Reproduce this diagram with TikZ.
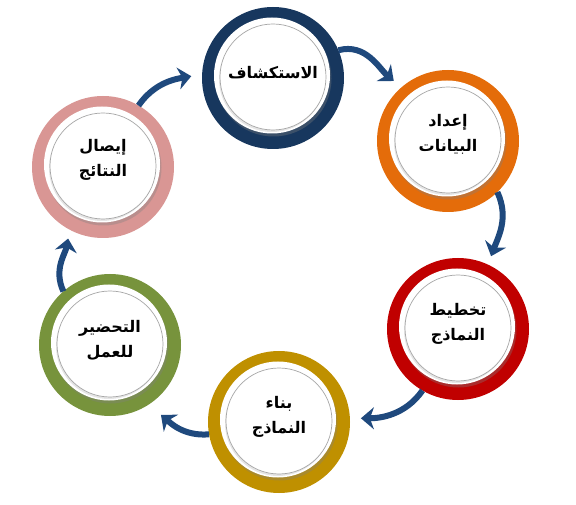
\documentclass[tikz,border=0pt]{standalone}
\usepackage{fontspec}
\newfontfamily\arabicfont[Script=Arabic]{DejaVu Sans}
\TeXXeTstate=1
\usetikzlibrary{arrows.meta,shadows}
\definecolor{navyring}{RGB}{23,55,94}
\definecolor{orangering}{RGB}{228,108,10}
\definecolor{redring}{RGB}{192,0,0}
\definecolor{goldring}{RGB}{191,144,0}
\definecolor{greenring}{RGB}{119,147,60}
\definecolor{pinkring}{RGB}{217,150,148}
\definecolor{flowblue}{RGB}{31,73,125}
\tikzset{
    x=1pt,y=1pt,
    ring/.style ={circle, fill=#1, minimum size=142pt, inner sep=0pt, outer sep=0pt},
    disk/.style ={circle, fill=white, minimum size=116pt, inner sep=0pt,
        drop shadow={shadow xshift=1.5pt, shadow yshift=-3pt, opacity=0.35}},
    core/.style ={circle, minimum size=106pt, inner sep=0pt, fill=white, draw=gray!70, line width=0.7pt,
        drop shadow={shadow xshift=-1pt, shadow yshift=-2pt, opacity=0.2}},
    label/.style ={align=center, font=\arabicfont\bfseries\fontsize{16}{25}\selectfont},
    flow/.style ={-{Stealth[width=22pt,length=13pt,inset=4pt]}, line width=6pt, draw=flowblue}
}
\begin{document}
\begin{tikzpicture}
    \useasboundingbox (0,0) rectangle (576,504);

    \node[ring=navyring] (explore) at (273,426) {};
    \node[ring=orangering] (prep) at (448,363) {};
    \node[ring=redring] (plan) at (458,175) {};
    \node[ring=goldring] (build) at (279,82) {};
    \node[ring=greenring] (ready) at (110,159) {};
    \node[ring=pinkring] (report) at (103,337) {};

    \node[disk] at ([xshift=-1pt,yshift=2.5pt]explore.center) {};
    \node[disk] at ([xshift=-1pt,yshift=2.5pt]prep.center) {};
    \node[disk] at ([xshift=-1pt,yshift=2.5pt]plan.center) {};
    \node[disk] at ([xshift=-1pt,yshift=2.5pt]build.center) {};
    \node[disk] at ([xshift=-1pt,yshift=2.5pt]ready.center) {};
    \node[disk] at ([xshift=-1pt,yshift=2.5pt]report.center) {};

    \node[core] (exploreC) at ([yshift=1pt]explore) {};
    \node[core] (prepC) at ([yshift=1pt]prep) {};
    \node[core] (planC) at ([yshift=1pt]plan) {};
    \node[core] (buildC) at ([yshift=1pt]build) {};
    \node[core] (readyC) at ([yshift=1pt]ready) {};
    \node[core] (reportC) at ([yshift=1pt]report) {};

    \node[label] (exploreT) at ([yshift=4pt]exploreC) {\beginR الاستكشاف\endR};
    \node[label] (prepT) at ([yshift=6pt]prepC) {\beginR إعداد\endR\\\beginR البيانات\endR};
    \node[label] (planT) at ([yshift=4pt]planC) {\beginR تخطيط\endR\\\beginR النماذج\endR};
    \node[label] (buildT) at ([yshift=4pt]buildC) {\beginR بناء\endR\\\beginR النماذج\endR};
    \node[label] (readyT) at ([yshift=4pt]readyC) {\beginR التحضير\endR\\\beginR للعمل\endR};
    \node[label] (reportT) at ([yshift=6pt]reportC) {\beginR إيصال\endR\\\beginR النتائج\endR};

    % cycle arrows
    \draw[flow,shorten >=10pt] (explore.23) to[out=15,in=140] (prep.131);
    \draw[flow,shorten >=9pt] (prep.-46) to[out=-65,in=70] (plan.65);
    \draw[flow,shorten >=11pt] (plan.-120) to[out=-125,in=0] (build.3);
    \draw[flow,shorten >=16pt] (build.190) to[out=185,in=-40] (ready.-57);
    \draw[flow,shorten >=9pt] (ready.131) to[out=115,in=-100] (report.-118);
    \draw[flow,shorten >=11pt] (report.60) to[out=55,in=190] (explore.177);
\end{tikzpicture}
\end{document}
